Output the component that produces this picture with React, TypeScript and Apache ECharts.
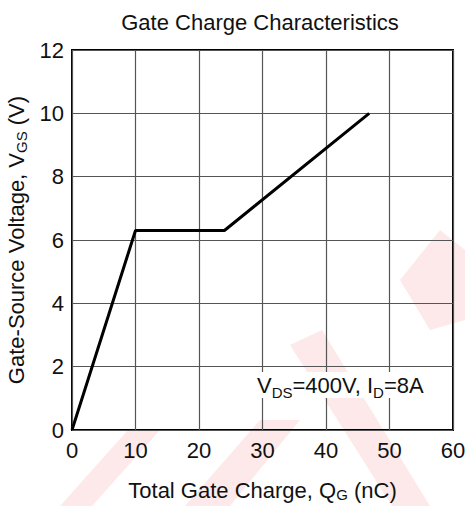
import React, { useEffect, useRef } from "react";
import * as echarts from "echarts";

const charge = [0, 10, 24, 46.8];
const voltage = [0, 6.3, 6.3, 10];
const xTicks = [0, 10, 20, 30, 40, 50, 60];
const yTicks = [0, 2, 4, 6, 8, 10, 12];

const FONT = "'Liberation Sans', Arial, sans-serif";

export default function App() {
  const ref = useRef<HTMLDivElement>(null);
  useEffect(() => {
    if (!ref.current) return;
    const chart = echarts.init(ref.current, null, { renderer: "svg" });
    const wm = "rgba(235, 40, 40, 0.10)";
    chart.setOption({
      animation: false,
      backgroundColor: "#fff",
      title: {
        text: "Gate Charge Characteristics",
        left: 255,
        top: 6,
        textAlign: "center",
        textStyle: { fontFamily: FONT, fontSize: 22, fontWeight: "normal", color: "#111" },
      },
      graphic: [
        { type: "polygon", z: -10, silent: true, shape: { points: [[60, 506], [92, 506], [160, 430], [128, 430]] }, style: { fill: wm } },
        { type: "polygon", z: -10, silent: true, shape: { points: [[185, 506], [230, 506], [300, 420], [260, 420]] }, style: { fill: wm } },
        { type: "polygon", z: -10, silent: true, shape: { points: [[290, 345], [322, 330], [430, 506], [392, 506]] }, style: { fill: wm } },
        { type: "polygon", z: -10, silent: true, shape: { points: [[400, 280], [440, 230], [465, 250], [465, 320], [430, 330]] }, style: { fill: wm } },
        {
          type: "text",
          left: 255,
          top: 372,
          z: 100,
          style: {
            text: "{n|V}{s|DS}{n|=400V, I}{s|D}{n|=8A}",
            backgroundColor: "#fff",
            padding: [2, 4, 2, 2],
            rich: {
              n: { fontFamily: FONT, fontSize: 22, fill: "#111", verticalAlign: "bottom" },
              s: { fontFamily: FONT, fontSize: 15, fill: "#111", verticalAlign: "bottom", padding: [0, 0, -4, 0] },
            },
          },
        },
      ],
      grid: { left: 72, right: 12, top: 50, bottom: 76, show: true, borderColor: "#000", borderWidth: 2, backgroundColor: "transparent", outerBoundsMode: "none", containLabel: false },
      xAxis: {
        type: "value",
        min: xTicks[0],
        max: xTicks[xTicks.length - 1],
        interval: 10,
        name: "{n|Total Gate Charge, Q}{s|G}{n| (nC)}",
        nameLocation: "middle",
        nameGap: 48,
        nameTextStyle: {
          rich: {
            n: { fontFamily: FONT, fontSize: 22, color: "#111" },
            s: { fontFamily: FONT, fontSize: 15, color: "#111", padding: [9, 0, 0, 0] },
          },
        },
        axisLine: { show: false },
        axisTick: { show: false },
        axisLabel: { fontFamily: FONT, fontSize: 22, color: "#111", margin: 9 },
        splitLine: { show: true, lineStyle: { color: "#555", width: 1.2 } },
      },
      yAxis: {
        type: "value",
        min: yTicks[0],
        max: yTicks[yTicks.length - 1],
        interval: 2,
        name: "{n|Gate-Source Voltage, V}{s|GS}{n| (V)}",
        nameLocation: "middle",
        nameGap: 43,
        nameTextStyle: {
          rich: {
            n: { fontFamily: FONT, fontSize: 22, color: "#111" },
            s: { fontFamily: FONT, fontSize: 15, color: "#111", padding: [9, 0, 0, 0] },
          },
        },
        axisLine: { show: false },
        axisTick: { show: false },
        axisLabel: { fontFamily: FONT, fontSize: 22, color: "#111", margin: 8 },
        splitLine: { show: true, lineStyle: { color: "#555", width: 1.2 } },
      },
      series: [
        {
          type: "line",
          data: charge.map((c, i) => [c, voltage[i]]),
          showSymbol: false,
          lineStyle: { color: "#000", width: 3 },
          z: 5,
        },
      ],
    });
    return () => chart.dispose();
  }, []);
  return <div ref={ref} style={{ width: 465, height: 506, position: "absolute", left: 0, top: 0 }} />;
}
